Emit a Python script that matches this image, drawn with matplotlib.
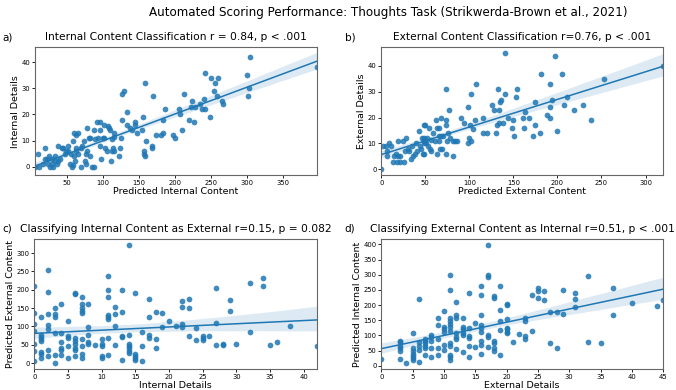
import numpy as np
import matplotlib
matplotlib.use("Agg")
import matplotlib.pyplot as plt
import seaborn as sns

# a) predicted internal content vs internal details
a_pred = [10, 6, 12, 17, 19, 19, 22, 24, 25, 26, 29, 30, 31, 33, 34, 36, 37, 38, 40, 43,
          45, 48, 49, 51, 52, 55, 56, 57, 58, 58.5, 59.5, 60, 61, 62, 63, 63, 65, 66, 69, 70,
          71, 74, 75, 76, 77, 78, 78, 81, 82, 82, 85, 87, 88, 89, 92, 93, 96, 96, 96, 97,
          100, 101, 102, 103, 105, 107, 108, 110, 111, 112, 113, 114, 115, 116, 116, 122, 124, 125, 126, 127,
          129, 134, 134, 138, 141, 145, 145, 147, 154, 155, 157, 157, 158, 158, 160, 168, 168, 170, 173, 180,
          183, 184, 186, 197, 200, 206, 207, 209, 212, 220, 222, 224, 226, 228, 235, 237, 240, 241, 242, 249,
          250, 254, 255, 258, 259, 265, 266, 300, 301, 303, 304, 397]
a_det = [5, 0, 0, 1, 3, 7, 3, 1, 4, 0, 1, 3, 0, 4, 2, 1, 8, 2, 3, 7,
         7, 5, 6, 8, 6, 1, 5, 0, 0.5, 10, 13, 4, 2, 6, 12, 7, 5, 13, 7, 0,
         8, 10, 2, 1, 5, 15, 6, 11, 11, 4, 0, 0, 14, 10.5, 17, 11, 14, 17, 8, 3,
         11, 11, 16, 7, 6, 15.5, 15, 14, 2, 6, 10.5, 7, 11.5, 13, 6, 4, 7, 11, 28, 18,
         29, 21, 16, 15, 14, 17, 16, 13, 14, 19, 5, 6, 4, 32, 10, 8, 7, 27, 12, 12,
         13, 18, 22, 12, 11, 22, 20, 14, 28, 18, 23, 25, 17, 23, 24, 22, 26, 36, 22, 19,
         34, 29, 32, 27, 34, 25, 24, 35, 27, 30, 42, 38]

# b) predicted external content vs external details
b_pred = [0, 2, 5, 6, 7, 9, 11, 13, 15, 17, 18, 19, 19, 21, 21, 25, 26, 27, 28, 30,
          32, 34, 35, 36, 38, 39, 40, 43, 44, 45, 46, 47, 48, 48, 48.5, 49, 49, 50, 50, 51,
          52, 53, 54, 55, 56, 57, 59, 61, 62, 63, 63, 65, 66, 66, 67, 68, 68, 69, 70, 73,
          73, 74, 74, 75, 76, 77, 78, 81, 82, 84, 86, 91, 94, 98, 98, 100, 101, 102, 102, 104,
          106, 108, 116, 116, 120, 126, 128, 130, 131, 132, 134, 134, 135, 136, 138, 140, 141, 144, 148, 150,
          151, 153, 154, 161, 162, 163, 168, 172, 174, 175, 180, 181, 188, 191, 191, 191, 194, 197, 199, 205,
          208, 211, 219, 229, 238, 253, 320]
b_det = [0, 9, 9, 7, 5, 10, 9, 3, 5, 6, 3, 11, 5, 3, 5, 11, 3, 7, 12, 8,
         7, 4, 9, 5, 6, 10, 7, 15, 9, 8, 12, 6, 17, 11, 10, 12, 6, 17, 11, 10,
         12, 9, 16, 8, 11.5, 7, 14, 11, 19, 16, 6, 11, 16, 13, 8, 20, 13, 8, 13, 6,
         31, 19, 17, 11, 14, 23, 12, 5, 11, 11, 11, 20, 18, 24, 10, 12, 17, 29, 11, 15.5,
         19, 33, 20, 14, 14, 25, 23, 14, 17, 31, 23, 18, 26, 27, 18, 45, 29, 20, 16, 19,
         13, 28, 31, 20, 16, 22, 20, 13, 26, 17, 14, 37, 21, 24, 33, 20, 27, 44, 15, 37,
         25, 28, 23, 25, 19, 35, 40]

# c) internal details vs predicted external content
c_det = [0, 0, 0, 0, 0, 0, 0,
         1, 1, 1, 1, 1, 1, 1, 1,
         2, 2, 2, 2, 2, 2, 2,
         3, 3, 3, 3, 3, 3,
         4, 4, 4, 4, 4, 4,
         5, 5, 5, 5, 5,
         6, 6, 6, 6, 6, 6, 6, 6,
         7, 7, 7, 7, 7, 7, 7, 7, 7,
         8, 8, 8, 8, 8,
         9,
         10, 10, 10, 10, 10,
         11, 11, 11, 11, 11, 11, 11, 11,
         12, 12, 12, 12,
         13, 13, 13, 13, 13,
         14, 14, 14, 14, 14, 14, 14,
         15, 15, 15, 15, 15,
         16, 16, 16,
         17, 17, 17, 17,
         18, 18, 18,
         19, 19, 20, 21,
         22, 22, 22, 22,
         23, 23, 23,
         24, 24,
         25, 25, 25, 26,
         27, 27, 27,
         28, 28, 29, 29, 30,
         32, 32, 34, 34, 35, 36, 38, 42]
c_pred = [211, 136, 106, 88, 53, 33, 5,
          126, 77, 71, 65, 60, 30, 26, 15,
          255, 195, 134, 104, 93, 35, 19,
          149, 134, 126, 81, 21, 0,
          161, 81, 58, 40, 35, 22,
          115, 74, 68, 47, 15,
          192, 189, 68, 60, 51, 42, 35, 18,
          181, 161, 149, 143, 137, 65, 47, 26, 15,
          161, 99, 76, 58, 53,
          49,
          65, 53, 47, 19, 13,
          238, 198, 181, 131, 126, 119, 68, 21,
          152, 134, 102, 49,
          200, 138, 74, 70, 9,
          322, 77, 53, 47, 40, 33, 28,
          192, 26, 19, 15, 9,
          86, 47, 5,
          175, 126, 77, 67,
          140, 65, 40,
          137, 99, 115, 100,
          169, 152, 106, 99,
          175, 149, 73,
          95, 64,
          73, 67, 62, 73,
          205, 109, 48,
          51, 48, 172, 141, 51,
          219, 86, 231, 209, 48, 57, 101, 46]

# d) external details vs predicted internal content
d_det = [0,
         3, 3, 3, 3, 3, 3,
         4,
         5, 5, 5, 5, 5, 5, 5,
         6, 6, 6, 6, 6,
         7, 7, 7, 7, 7, 7,
         8, 8, 8, 8, 8,
         9, 9, 9, 9, 9,
         10, 10, 10, 10, 10, 10,
         11, 11, 11, 11, 11, 11, 11, 11, 11, 11, 11, 11,
         12, 12, 12, 12, 12, 12, 12,
         13, 13, 13, 13, 13, 13,
         14, 14, 14, 14, 14, 14,
         15, 15,
         16, 16, 16, 16, 16, 16, 16, 16, 16,
         17, 17, 17, 17, 17, 17,
         18, 18, 18, 18, 18, 18,
         19, 19, 19, 19, 19,
         20, 20, 20, 20, 20, 20, 20,
         21, 22,
         23, 23, 23, 23,
         24, 24,
         25, 25, 25,
         26, 26,
         27, 27, 28, 28, 29, 29,
         31, 31, 31, 33, 33, 35, 37, 37, 40, 44, 45]
d_pred = [22,
          83, 78, 64, 59, 50, 22,
          9,
          107, 59, 50, 39, 31, 26, 20,
          220, 78, 64, 53, 14,
          89, 81, 76, 64, 59, 37,
          103, 94, 83, 59, 28,
          157, 133, 89, 59, 34,
          181, 128, 120, 112, 70, 53,
          298, 250, 157, 148, 139, 128, 114, 76, 64, 34, 28, 20,
          209, 167, 156, 109, 94, 89, 56,
          156, 128, 120, 109, 100, 46,
          239, 126, 98, 92, 64, 29,
          142, 61,
          262, 234, 168, 134, 126, 112, 81, 70, 39,
          398, 298, 292, 103, 94, 61,
          231, 223, 81, 76, 59, 50,
          262, 184, 148, 118, 34,
          203, 201, 153, 126, 120, 112, 107,
          79, 106,
          157, 146, 98, 89,
          234, 114,
          256, 246, 223,
          246, 218,
          178, 74, 176, 59, 250, 170,
          239, 220, 194, 296, 79, 74, 256, 167, 206, 198, 217]

panels = [
    (a_pred, a_det, "a)", "Internal Content Classification r = 0.84, p < .001",
     "Predicted Internal Content", "Internal Details"),
    (b_pred, b_det, "b)", "External Content Classification r=0.76, p < .001",
     "Predicted External Content", "External Details"),
    (c_det, c_pred, "c)", "Classifying Internal Content as External r=0.15, p = 0.082",
     "Internal Details", "Predicted External Content"),
    (d_det, d_pred, "d)", "Classifying External Content as Internal r=0.51, p < .001",
     "External Details", "Predicted Internal Content"),
]

boxes = [
    [0.052, 0.551, 0.417, 0.328],
    [0.564, 0.551, 0.417, 0.328],
    [0.051, 0.054, 0.418, 0.333],
    [0.564, 0.054, 0.417, 0.333],
]
label_pos = [(0.003, 0.905), (0.51, 0.905), (0.003, 0.415), (0.51, 0.415)]

fig = plt.figure(figsize=(6.76, 3.9), dpi=100)

for (x, y, lab, title, xlab, ylab), box, lp in zip(panels, boxes, label_pos):
    ax = fig.add_axes(box)
    sns.regplot(x=np.array(x, float), y=np.array(y, float), ax=ax, color="#1f77b4",
                seed=3, scatter_kws={"s": 17, "alpha": 0.85, "linewidths": 0},
                line_kws={"linewidth": 1.1})
    ax.set_xlim(min(x), max(x))
    ax.set_title(title, fontsize=7.7, pad=5)
    ax.set_xlabel(xlab, fontsize=6.8, labelpad=1)
    ax.set_ylabel(ylab, fontsize=6.8, labelpad=1)
    ax.tick_params(labelsize=4.9, length=2, width=0.6, pad=1.5)
    for s in ax.spines.values():
        s.set_color("#666666")
        s.set_linewidth(0.8)
    fig.text(lp[0], lp[1], lab, fontsize=7.5, ha="left", va="center")

fig.suptitle("Automated Scoring Performance: Thoughts Task (Strikwerda-Brown et al., 2021)",
             x=0.574, y=0.969, va="center", fontsize=8.6)

plt.savefig("out.png", dpi=100)
